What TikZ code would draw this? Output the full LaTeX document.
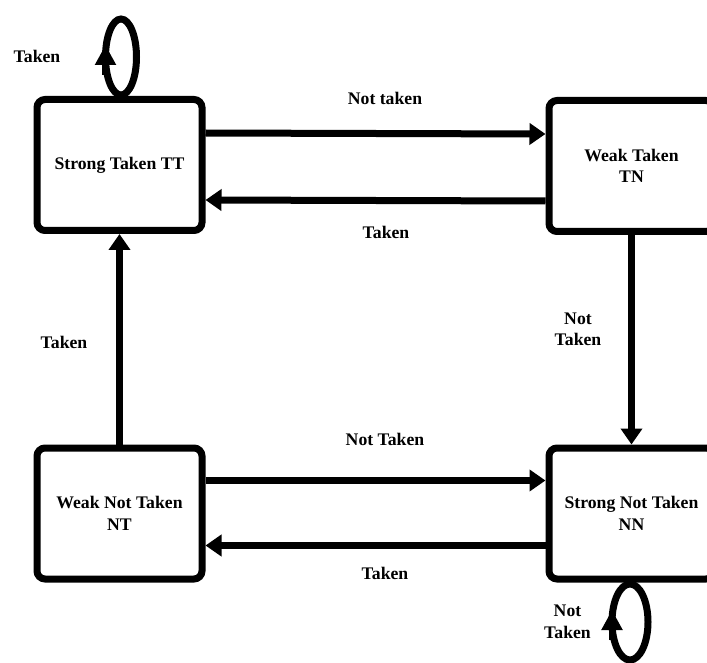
\documentclass[tikz,border=0pt]{standalone}
\usepackage{fontspec}
\setmainfont{Liberation Serif}
\usetikzlibrary{arrows.meta}
\begin{document}
\begin{tikzpicture}[x=1pt,y=-1pt,
  every node/.style={font=\fontsize{17.7}{21.5}\selectfont\bfseries, align=center, inner sep=0pt},
  state/.style={draw, line width=7pt, rounded corners=8pt, minimum width=165pt, minimum height=131pt},
  conn/.style={line width=7pt, -{Triangle[length=16pt,width=21pt]}},
  loophead/.style={line width=7pt, -{Triangle[length=20pt,width=20pt]}},
  lbl/.style={}]
\useasboundingbox (0,0) rectangle (707,663);
\clip (0,0) rectangle (707,663);
\node[state] (TT) at (119.5,165) {Strong Taken TT};
\node[state] (TN) at (631.5,166) {Weak Taken\\TN};
\node[state] (NT) at (119.5,513.5) {Weak Not Taken\\NT};
\node[state] (NN) at (631.5,513.5) {Strong Not Taken\\NN};
% horizontal connectors
\draw[conn] ([yshift=32pt]TT.east) -- ([yshift=32pt]TN.west -| TN.west);
\draw[conn] ([yshift=-35pt]TN.west) -- ([yshift=-35pt]TT.east -| TT.east);
\draw[conn] ([yshift=33pt]NT.east) -- ([yshift=33pt]NN.west);
\draw[conn] ([yshift=-32pt]NN.west) -- ([yshift=-32pt]NT.east);
% vertical connectors
\draw[conn] (TN.south) -- (NN.north);
\draw[conn] (NT.north) -- (TT.south);
% self loops
\coordinate (ttloop) at (121,57);
\draw[line width=7pt] (ttloop) ellipse [x radius=15.5pt, y radius=38pt];
\coordinate (ttlooptail) at (105.5,75);
\coordinate (ttloophead) at (105.5,45);
\draw[loophead] (ttlooptail) -- (ttloophead);
\coordinate (nnloop) at (630,622);
\draw[line width=7pt] (nnloop) ellipse [x radius=18pt, y radius=38pt];
\coordinate (nnlooptail) at (612,640);
\coordinate (nnloophead) at (612,610);
\draw[loophead] (nnlooptail) -- (nnloophead);
% labels
\node[lbl] (l1) at (37,56) {Taken};
\node[lbl] (l2) at (385,98) {Not taken};
\node[lbl] (l3) at (386,232) {Taken};
\node[lbl] (l4) at (64,342) {Taken};
\node[lbl] (l5) at (578,329.5) {Not\\Taken};
\node[lbl] (l6) at (385,439) {Not Taken};
\node[lbl] (l7) at (385,573.5) {Taken};
\node[lbl] (l8) at (567.5,622) {Not\\Taken};
\end{tikzpicture}
\end{document}
